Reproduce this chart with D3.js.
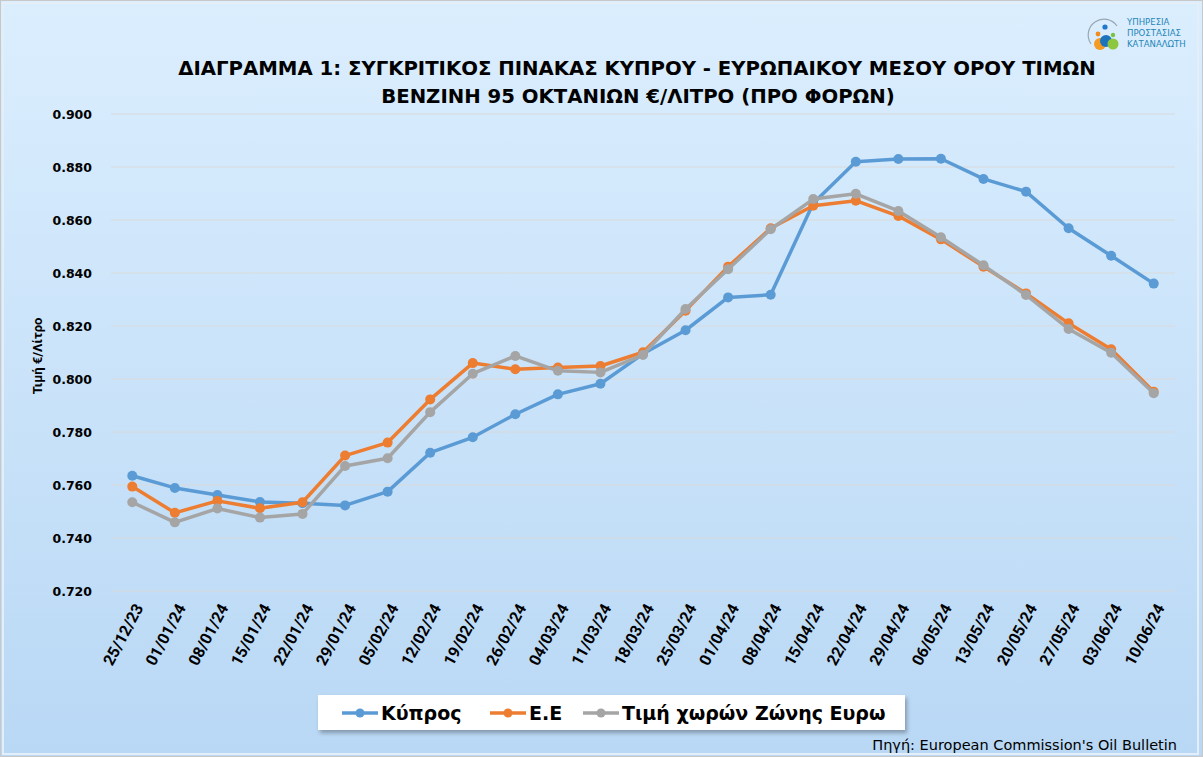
<!DOCTYPE html>
<html>
<head>
<meta charset="utf-8">
<script src="https://cdn.jsdelivr.net/npm/d3@7"></script>
<style>
  body { margin: 0; background: #fff; }
  svg { display: block; }
</style>
</head>
<body>
<script>
var dates = ["25/12/23", "01/01/24", "08/01/24", "15/01/24", "22/01/24", "29/01/24", "05/02/24",
  "12/02/24", "19/02/24", "26/02/24", "04/03/24", "11/03/24", "18/03/24", "25/03/24", "01/04/24",
  "08/04/24", "15/04/24", "22/04/24", "29/04/24", "06/05/24", "13/05/24", "20/05/24", "27/05/24",
  "03/06/24", "10/06/24"];

var cyprus = [0.7635, 0.7589, 0.7562, 0.7536, 0.7531, 0.7523, 0.7575, 0.7722, 0.7780, 0.7867,
  0.7942, 0.7982, 0.8095, 0.8184, 0.8308, 0.8318, 0.8663, 0.8820, 0.8830, 0.8831, 0.8755,
  0.8707, 0.8569, 0.8465, 0.8360];

var eu = [0.7594, 0.7495, 0.7540, 0.7512, 0.7535, 0.7711, 0.7760, 0.7923, 0.8060, 0.8037,
  0.8043, 0.8049, 0.8101, 0.8258, 0.8424, 0.8569, 0.8654, 0.8673, 0.8615, 0.8527, 0.8424,
  0.8323, 0.8210, 0.8112, 0.7952];

var euroZone = [0.7535, 0.7459, 0.7511, 0.7477, 0.7491, 0.7672, 0.7701, 0.7875, 0.8020, 0.8087,
  0.8031, 0.8025, 0.8091, 0.8264, 0.8414, 0.8565, 0.8679, 0.8699, 0.8634, 0.8535, 0.8429,
  0.8317, 0.8189, 0.8099, 0.7946];

var yTicks = [0.72, 0.74, 0.76, 0.78, 0.80, 0.82, 0.84, 0.86, 0.88, 0.90];

var seriesNames = ["Κύπρος", "Ε.Ε", "Τιμή χωρών Ζώνης Ευρω"];
var seriesColors = ["#5b9bd5", "#ed7d31", "#a5a5a5"];

var W = 1203, H = 757;
var margin = {top: 114, right: 28, bottom: 166, left: 111};

var svg = d3.select("body").append("svg")
  .attr("width", W)
  .attr("height", H);

var defs = svg.append("defs");
var bg = defs.append("linearGradient")
  .attr("id", "bg")
  .attr("x1", 0).attr("y1", 0).attr("x2", 0).attr("y2", 1);
bg.append("stop").attr("offset", "0%").attr("stop-color", "#dbeefe");
bg.append("stop").attr("offset", "100%").attr("stop-color", "#b9d8f5");

var shadow = defs.append("filter").attr("id", "shadow")
  .attr("x", "-5%").attr("y", "-20%").attr("width", "115%").attr("height", "160%");
shadow.append("feDropShadow")
  .attr("dx", 2).attr("dy", 3).attr("stdDeviation", 2)
  .attr("flood-color", "#000").attr("flood-opacity", 0.3);

// chart area background
svg.append("rect")
  .attr("x", 0.5).attr("y", 0.5)
  .attr("width", W - 1).attr("height", H - 1)
  .attr("fill", "url(#bg)")
  .attr("stroke", "#c8c8c8");

svg.append("rect")
  .attr("x", 3).attr("y", 3)
  .attr("width", W - 8).attr("height", H - 6)
  .attr("fill", "none")
  .attr("stroke", "#e4eef8")
  .attr("stroke-width", 2);

var wideBold = "'DejaVu Sans', Verdana, sans-serif";

// title
var title = svg.append("text")
  .attr("text-anchor", "middle")
  .attr("font-family", wideBold)
  .attr("font-weight", "bold")
  .attr("font-size", 19.7)
  .attr("fill", "#000");
title.append("tspan").attr("x", 637).attr("y", 75)
  .text("ΔΙΑΓΡΑΜΜΑ 1: ΣΥΓΚΡΙΤΙΚΟΣ ΠΙΝΑΚΑΣ ΚΥΠΡΟΥ - ΕΥΡΩΠΑΙΚΟΥ ΜΕΣΟΥ ΟΡΟΥ ΤΙΜΩΝ");
title.append("tspan").attr("x", 638).attr("y", 103)
  .text("ΒΕΝΖΙΝΗ 95 ΟΚΤΑΝΙΩΝ €/ΛΙΤΡΟ (ΠΡΟ ΦΟΡΩΝ)");

// logo
var logo = svg.append("g").attr("transform", "translate(1105,36)");
logo.append("path")
  .attr("d", "M-14,8 A15,15 0 0 1 12,-10")
  .attr("fill", "none").attr("stroke", "#9aa7b3").attr("stroke-width", 1.2);
logo.append("circle").attr("cx", 0).attr("cy", -9).attr("r", 2.6).attr("fill", "#1f78c8");
logo.append("circle").attr("cx", -7).attr("cy", -2).attr("r", 2.4).attr("fill", "#f28c1e");
logo.append("circle").attr("cx", 8).attr("cy", -1).attr("r", 2.2).attr("fill", "#7cc242");
logo.append("circle").attr("cx", -5).attr("cy", 8).attr("r", 6).attr("fill", "#f59a23");
logo.append("circle").attr("cx", 1).attr("cy", 5).attr("r", 6).attr("fill", "#1c75bc");
logo.append("circle").attr("cx", 8).attr("cy", 8).attr("r", 5.5).attr("fill", "#8dc63f");
var logoText = svg.append("text")
  .attr("font-family", "'DejaVu Sans Condensed', 'Liberation Sans', sans-serif")
  .attr("font-size", 9.5)
  .attr("fill", "#1f86b8");
["ΥΠΗΡΕΣΙΑ", "ΠΡΟΣΤΑΣΙΑΣ", "ΚΑΤΑΝΑΛΩΤΗ"].forEach(function (t, i) {
  logoText.append("tspan").attr("x", 1127).attr("y", 25 + i * 11).text(t);
});

var plotW = W - margin.left - margin.right,
  plotH = 591 - margin.top;

var g = svg.append("g")
  .attr("transform", "translate(" + margin.left + "," + margin.top + ")");

var x = d3.scalePoint()
  .domain(dates)
  .range([0, plotW])
  .padding(0.5);

var y = d3.scaleLinear()
  .domain([0.72, 0.90])
  .range([plotH, 0]);

// gridlines
g.selectAll(".grid")
  .data(yTicks)
  .enter().append("line")
  .attr("class", "grid")
  .attr("x1", 0).attr("x2", plotW)
  .attr("y1", function (d) { return y(d); })
  .attr("y2", function (d) { return y(d); })
  .attr("stroke", "#d9d9d9")
  .attr("stroke-width", 1.2);

// y axis
var yAxis = g.append("g")
  .call(d3.axisLeft(y).tickValues(yTicks).tickFormat(d3.format(".3f")).tickSize(0).tickPadding(19));
yAxis.select(".domain").remove();
yAxis.selectAll("text")
  .attr("font-family", wideBold)
  .attr("font-weight", "bold")
  .attr("font-size", 12.5)
  .attr("fill", "#000");

// x axis
var xAxis = g.append("g")
  .attr("transform", "translate(0," + plotH + ")")
  .call(d3.axisBottom(x).tickSize(0).tickPadding(0));
xAxis.select(".domain").remove();
xAxis.selectAll("text")
  .attr("font-family", "Roboto, 'Noto Sans', sans-serif")
  .attr("font-weight", "bold")
  .attr("font-size", 16)
  .attr("fill", "#000")
  .attr("text-anchor", "end")
  .attr("dy", "0.35em")
  .attr("transform", "translate(6,14) rotate(-62)");

// y axis title
svg.append("text")
  .attr("transform", "translate(42,356) rotate(-90)")
  .attr("text-anchor", "middle")
  .attr("font-family", "Roboto, 'Noto Sans', sans-serif")
  .attr("font-weight", "bold")
  .attr("font-size", 13)
  .attr("fill", "#000")
  .text("Τιμή €/Λίτρο");

// series
var series = [cyprus, eu, euroZone].map(function (vals, i) {
  return {name: seriesNames[i], color: seriesColors[i], values: vals};
});

var line = d3.line()
  .x(function (d, i) { return x(dates[i]); })
  .y(function (d) { return y(d); });

var sg = g.selectAll(".series")
  .data(series)
  .enter().append("g")
  .attr("class", "series");

sg.append("path")
  .attr("d", function (d) { return line(d.values); })
  .attr("fill", "none")
  .attr("stroke", function (d) { return d.color; })
  .attr("stroke-width", 3.5)
  .attr("stroke-linejoin", "round")
  .attr("stroke-linecap", "round");

sg.selectAll("circle")
  .data(function (d) { return d.values.map(function (v, i) { return {v: v, i: i, color: d.color}; }); })
  .enter().append("circle")
  .attr("cx", function (d) { return x(dates[d.i]); })
  .attr("cy", function (d) { return y(d.v); })
  .attr("r", 5)
  .attr("fill", function (d) { return d.color; });

// legend
var legend = svg.append("g").attr("transform", "translate(318,695)");
legend.append("rect")
  .attr("width", 587).attr("height", 35)
  .attr("fill", "#fff")
  .attr("filter", "url(#shadow)");

var legendX = [24, 172, 265];
var li = legend.selectAll(".li")
  .data(series)
  .enter().append("g")
  .attr("class", "li")
  .attr("transform", function (d, i) { return "translate(" + legendX[i] + ",18)"; });
li.append("line")
  .attr("x1", 0).attr("x2", 36)
  .attr("stroke", function (d) { return d.color; })
  .attr("stroke-width", 3.5);
li.append("circle")
  .attr("cx", 18).attr("r", 4.5)
  .attr("fill", function (d) { return d.color; });
li.append("text")
  .attr("x", 39)
  .attr("dy", "0.36em")
  .attr("font-family", wideBold)
  .attr("font-weight", "bold")
  .attr("font-size", 19)
  .attr("fill", "#000")
  .text(function (d) { return d.name; });

// source
svg.append("text")
  .attr("x", 1177).attr("y", 750)
  .attr("text-anchor", "end")
  .attr("font-family", "'DejaVu Sans', sans-serif")
  .attr("font-size", 14.5)
  .attr("fill", "#000")
  .text("Πηγή: European Commission's Oil Bulletin");
</script>
</body>
</html>
